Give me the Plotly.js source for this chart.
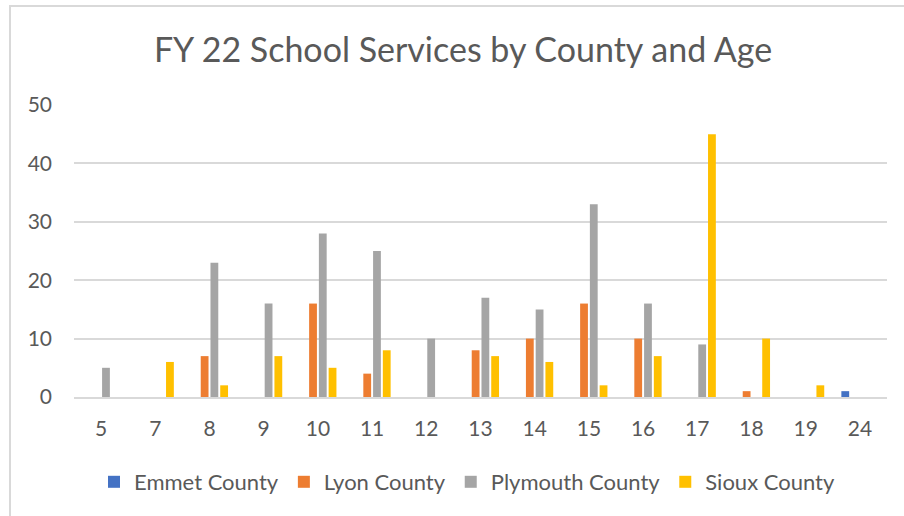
<!DOCTYPE html>
<html>
<head>
<meta charset="utf-8">
<script src="https://cdn.plot.ly/plotly-3.0.1.min.js"></script>
<style>
  html, body { margin: 0; padding: 0; background: #fff; }
  #wrap { position: relative; width: 904px; height: 516px; overflow: hidden; }
  #chart { width: 904px; height: 516px; }
  #frame { position: absolute; left: 9px; top: 5px; right: -4px; bottom: -4px;
           border-left: 2px solid #d9d9d9; border-top: 2px solid #d9d9d9; pointer-events: none; }
</style>
</head>
<body>
<div id="wrap">
  <div id="chart"></div>
  <div id="frame"></div>
</div>
<script>
const ages = ["5", "7", "8", "9", "10", "11", "12", "13", "14", "15", "16", "17", "18", "19", "24"];
const emmet    = [null, null, null, null, null, null, null, null, null, null, null, null, null, null, 1];
const lyon     = [null, null, 7, null, 16, 4, null, 8, 10, 16, 10, null, 1, null, null];
const plymouth = [5, null, 23, 16, 28, 25, 10, 17, 15, 33, 16, 9, null, null, null];
const sioux    = [null, 6, 2, 7, 5, 8, null, 7, 6, 2, 7, 45, 10, 2, null];
const seriesNames = ["Emmet County", "Lyon County", "Plymouth County", "Sioux County"];
const seriesColors = ["#4472c4", "#ed7d31", "#a5a5a5", "#ffc000"];
const seriesValues = [emmet, lyon, plymouth, sioux];

const FONT = "Lato, 'Open Sans', sans-serif";
const traces = seriesValues.map((vals, i) => ({
  type: "bar",
  name: seriesNames[i],
  x: ages,
  y: vals,
  marker: { color: seriesColors[i] },
  hoverinfo: "x+y+name"
}));

const layout = {
  width: 904, height: 516,
  margin: { l: 74, r: 17, t: 105, b: 119 },
  paper_bgcolor: "#ffffff",
  plot_bgcolor: "#ffffff",
  barmode: "group",
  bargap: 0.28,
  bargroupgap: 0.2,
  title: {
    text: "FY 22 School Services by County and Age",
    font: { family: FONT, size: 34, color: "#595959" },
    x: 463 / 904, xanchor: "center", xref: "container",
    y: 1 - 50 / 516, yref: "container", yanchor: "middle"
  },
  xaxis: {
    type: "category",
    showgrid: false,
    showline: true, linecolor: "#d9d9d9", linewidth: 2,
    ticks: "",
    tickfont: { family: FONT, size: 21, color: "#595959" },
    ticklabelstandoff: 12,
    fixedrange: true
  },
  yaxis: {
    range: [0, 50],
    dtick: 10,
    showgrid: true, gridcolor: "#d9d9d9", gridwidth: 2,
    zeroline: false,
    showline: false,
    ticks: "",
    tickfont: { family: FONT, size: 21, color: "#595959" },
    ticklabelstandoff: 21,
    fixedrange: true
  },
  legend: {
    orientation: "h",
    x: 467 / 904, xanchor: "center", xref: "container",
    y: 1 - 482 / 516, yref: "container",
    yanchor: "middle",
    font: { family: FONT, size: 22, color: "#595959" },
    itemwidth: 30,
    tracegroupgap: 0
  },
  showlegend: true
};

Plotly.newPlot("chart", traces, layout, { displayModeBar: false, staticPlot: true });
</script>
</body>
</html>
